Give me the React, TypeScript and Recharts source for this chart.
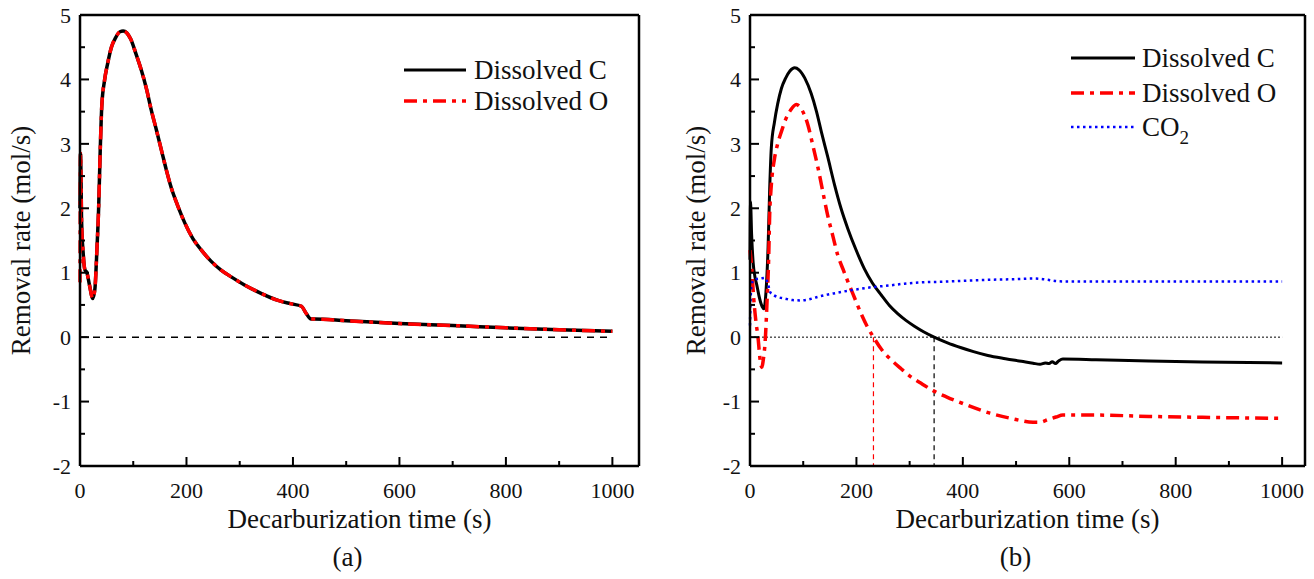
import { LineChart, Line, XAxis, YAxis, ReferenceLine, Legend } from 'recharts';

const FONT = '"Liberation Serif", "Times New Roman", serif';

// ---- panel (a) ----
const timeA = [0, 1, 3, 6, 9, 13, 18, 24, 28, 32, 35, 38, 41, 46, 52, 59, 67, 75, 81, 88, 95, 105, 115, 125, 134, 144, 153, 162, 171, 184, 197, 212, 228, 246, 265, 287, 309, 340, 372, 395, 416, 424, 434, 440, 500, 600, 700, 800, 900, 1000];
const carbonA = [2.0, 2.85, 1.8, 1.3, 1.05, 1.0, 0.8, 0.6, 0.75, 1.4, 2.0, 2.9, 3.6, 3.98, 4.25, 4.5, 4.65, 4.74, 4.75, 4.72, 4.63, 4.4, 4.15, 3.85, 3.52, 3.2, 2.9, 2.6, 2.33, 2.03, 1.77, 1.53, 1.35, 1.18, 1.04, 0.92, 0.81, 0.68, 0.57, 0.52, 0.48, 0.38, 0.28, 0.28, 0.255, 0.21, 0.18, 0.145, 0.115, 0.09];
const oxygenA = [0.85, 2.85, 1.8, 1.3, 1.05, 1.0, 0.8, 0.6, 0.75, 1.4, 2.0, 2.9, 3.6, 3.98, 4.25, 4.5, 4.65, 4.74, 4.75, 4.72, 4.63, 4.4, 4.15, 3.85, 3.52, 3.2, 2.9, 2.6, 2.33, 2.03, 1.77, 1.53, 1.35, 1.18, 1.04, 0.92, 0.81, 0.68, 0.57, 0.52, 0.48, 0.38, 0.28, 0.28, 0.255, 0.21, 0.18, 0.145, 0.115, 0.09];

// ---- panel (b) ----
const timeB_C = [0, 1, 3, 6, 9, 13, 18, 23, 26, 30, 34, 37, 40, 46, 52, 59, 67, 75, 84, 92, 103, 115, 125, 134, 146, 159, 171, 184, 199, 215, 230, 247, 262, 278, 293, 309, 327, 346, 370, 397, 420, 447, 480, 510, 532, 545, 555, 562, 568, 574, 580, 588, 650, 750, 850, 1000];
const carbonB = [1.2, 2.1, 1.6, 1.15, 0.95, 0.8, 0.6, 0.47, 0.44, 0.7, 1.4, 2.3, 2.93, 3.34, 3.62, 3.86, 4.02, 4.13, 4.18, 4.15, 4.02, 3.78, 3.5, 3.19, 2.8, 2.36, 2.0, 1.68, 1.36, 1.06, 0.84, 0.65, 0.49, 0.36, 0.26, 0.17, 0.08, 0.0, -0.085, -0.165, -0.225, -0.285, -0.335, -0.375, -0.405, -0.42, -0.4, -0.41, -0.38, -0.41, -0.37, -0.34, -0.35, -0.37, -0.385, -0.4];

const timeB_O = [0, 3, 7, 11, 15, 19, 22, 25, 29, 32, 35, 37, 40, 46, 52, 59, 67, 76, 87, 98, 109, 118, 128, 137, 146, 156, 165, 175, 184, 197, 209, 220, 232, 248, 265, 284, 303, 324, 344, 370, 400, 451, 490, 532, 545, 560, 575, 588, 650, 750, 850, 1000];
const oxygenB = [1.35, 1.1, 0.6, 0.25, 0.0, -0.35, -0.47, -0.35, 0.0, 0.55, 1.2, 1.9, 2.35, 2.77, 3.0, 3.19, 3.38, 3.52, 3.61, 3.52, 3.29, 2.98, 2.62, 2.25, 1.89, 1.56, 1.27, 1.05, 0.86, 0.6, 0.36, 0.17, 0.0, -0.2, -0.35, -0.49, -0.62, -0.73, -0.83, -0.93, -1.03, -1.18, -1.26, -1.32, -1.32, -1.28, -1.24, -1.21, -1.21, -1.23, -1.245, -1.26];

const timeB_CO2 = [0, 1, 3, 6, 12, 20, 28, 33, 38, 45, 53, 65, 80, 95, 110, 125, 145, 165, 184, 200, 215, 234, 260, 290, 320, 360, 400, 450, 500, 532, 545, 560, 575, 590, 650, 750, 850, 1000];
const co2B = [0.18, 0.55, 0.8, 0.88, 0.9, 0.91, 0.92, 0.85, 0.7, 0.65, 0.62, 0.6, 0.575, 0.57, 0.585, 0.62, 0.66, 0.69, 0.72, 0.74, 0.76, 0.78, 0.8, 0.83, 0.85, 0.86, 0.875, 0.89, 0.9, 0.91, 0.905, 0.89, 0.87, 0.865, 0.865, 0.865, 0.865, 0.865];

const X_TICKS = [0, 100, 200, 300, 400, 500, 600, 700, 800, 900, 1000];
const Y_TICKS = [-2, -1.5, -1, -0.5, 0, 0.5, 1, 1.5, 2, 2.5, 3, 3.5, 4, 4.5, 5];

const zip = (ts: number[], vs: number[]) => ts.map((t, i) => ({ t, v: vs[i] }));

const DASH_DOT = '13 6 4 6';
const DOTS = '2.5 3.5';

function XTick({ x, y, payload }: any) {
  const major = payload.value % 200 === 0;
  return (
    <g>
      <line x1={x} y1={y} x2={x} y2={y - (major ? 9 : 5)} stroke="#000" strokeWidth={2} />
      {major && (
        <text x={x} y={y + 24} dy="0.35em" textAnchor="middle" fontFamily={FONT} fontSize={22} fill="#111">
          {payload.value}
        </text>
      )}
    </g>
  );
}

function YTick({ x, y, payload }: any) {
  const major = Number.isInteger(payload.value);
  return (
    <g>
      <line x1={x} y1={y} x2={x + (major ? 9 : 5)} y2={y} stroke="#000" strokeWidth={2} />
      {major && (
        <text x={x - 9} y={y} dy="0.35em" textAnchor="end" fontFamily={FONT} fontSize={22} fill="#111">
          {String(payload.value)}
        </text>
      )}
    </g>
  );
}

const xTitle = (tag: string) => (props: any) => {
  const { x, y, width } = props.viewBox;
  const cx = x + width / 2;
  return (
    <g>
      <text x={cx} y={y + 53} dy="0.35em" textAnchor="middle" fontFamily={FONT} fontSize={27} fill="#111">
        Decarburization time (s)
      </text>
      <text x={cx - 12} y={y + 91} dy="0.35em" textAnchor="middle" fontFamily={FONT} fontSize={27} fill="#111">
        {tag}
      </text>
    </g>
  );
};

const yTitle = (cxOffset: number) => (props: any) => {
  const { x, y, height } = props.viewBox;
  const cx = x + cxOffset;
  const cy = y + height / 2;
  return (
    <text x={cx} y={cy} dy="0.35em" transform={`rotate(-90 ${cx} ${cy})`} textAnchor="middle" fontFamily={FONT} fontSize={27} fill="#111">
      Removal rate (mol/s)
    </text>
  );
};

interface LegendItem {
  name: string;
  color: string;
  dash?: string;
  width: number;
  sub?: string;
}

const legendA: LegendItem[] = [
  { name: 'Dissolved C', color: '#000', width: 3 },
  { name: 'Dissolved O', color: '#ff0000', dash: DASH_DOT, width: 3.5 },
];
const legendB: LegendItem[] = [
  { name: 'Dissolved C', color: '#000', width: 3 },
  { name: 'Dissolved O', color: '#ff0000', dash: DASH_DOT, width: 3.5 },
  { name: 'CO', sub: '2', color: '#0000ff', dash: DOTS, width: 2.5 },
];

const renderLegend = (items: LegendItem[], rows: number[], x0: number, x1: number, tx: number) => () => (
  <svg width={260} height={120}>
    {items.map((it, i) => (
      <g key={it.name}>
        <line x1={x0} y1={rows[i]} x2={x1} y2={rows[i]} stroke={it.color} strokeWidth={it.width} strokeDasharray={it.dash} />
        <text x={tx} y={rows[i]} dy="0.35em" fontFamily={FONT} fontSize={27} fill="#111">
          {it.name}
          {it.sub && (
            <tspan fontSize={19} dy={8}>
              {it.sub}
            </tspan>
          )}
        </text>
      </g>
    ))}
  </svg>
);

export default function App() {
  return (
    <div style={{ position: 'absolute', left: 0, top: 0, width: 1314, height: 579, background: '#fff' }}>
      <div style={{ position: 'absolute', left: 0, top: 0 }}>
        <LineChart width={655} height={579} margin={{ top: 15, right: 16, left: 0, bottom: 0 }}>
          <XAxis type="number" dataKey="t" domain={[0, 1050]} ticks={X_TICKS} interval={0} height={113}
            tick={XTick} tickLine={false} tickSize={0} tickMargin={0}
            axisLine={{ stroke: '#000', strokeWidth: 2.5 }} label={{ content: xTitle('(a)') }} />
          <YAxis type="number" domain={[-2, 5]} ticks={Y_TICKS} interval={0} width={80}
            tick={YTick} tickLine={false} tickSize={0} tickMargin={0}
            axisLine={{ stroke: '#000', strokeWidth: 2.5 }} label={{ content: yTitle(21) }} />
          <ReferenceLine y={5} stroke="#000" strokeWidth={2.5} />
          <ReferenceLine x={1050} stroke="#000" strokeWidth={2.5} />
          <ReferenceLine segment={[{ x: 0, y: 0 }, { x: 1000, y: 0 }]} stroke="#000" strokeWidth={1.5} strokeDasharray="7 6" />
          <Line data={zip(timeA, carbonA)} dataKey="v" name="Dissolved C" type="monotone" stroke="#000" strokeWidth={3.5} dot={false} activeDot={false} isAnimationActive={false} />
          <Line data={zip(timeA, oxygenA)} dataKey="v" name="Dissolved O" type="monotone" stroke="#ff0000" strokeWidth={3.5} strokeDasharray={DASH_DOT} dot={false} activeDot={false} isAnimationActive={false} />
          <Legend layout="horizontal" verticalAlign="middle" align="center"
            wrapperStyle={{ position: 'absolute', left: 400, top: 50, width: 260, height: 120 }}
            content={renderLegend(legendA, [20, 51], 4, 66, 74)} />
        </LineChart>
      </div>
      <div style={{ position: 'absolute', left: 655, top: 0 }}>
        <LineChart width={659} height={579} margin={{ top: 15, right: 9, left: 0, bottom: 0 }}>
          <XAxis type="number" dataKey="t" domain={[0, 1043]} ticks={X_TICKS} interval={0} height={113}
            tick={XTick} tickLine={false} tickSize={0} tickMargin={0}
            axisLine={{ stroke: '#000', strokeWidth: 2.5 }} label={{ content: xTitle('(b)') }} />
          <YAxis type="number" domain={[-2, 5]} ticks={Y_TICKS} interval={0} width={95}
            tick={YTick} tickLine={false} tickSize={0} tickMargin={0}
            axisLine={{ stroke: '#000', strokeWidth: 2.5 }} label={{ content: yTitle(41) }} />
          <ReferenceLine y={5} stroke="#000" strokeWidth={2.5} />
          <ReferenceLine x={1043} stroke="#000" strokeWidth={2.5} />
          <ReferenceLine segment={[{ x: 0, y: 0 }, { x: 1000, y: 0 }]} stroke="#000" strokeWidth={1} strokeDasharray="2 2" />
          <ReferenceLine segment={[{ x: 232, y: 0 }, { x: 232, y: -2 }]} stroke="#ff0000" strokeWidth={1.2} strokeDasharray="5 4" />
          <ReferenceLine segment={[{ x: 346, y: 0 }, { x: 346, y: -2 }]} stroke="#000" strokeWidth={1.2} strokeDasharray="5 4" />
          <Line data={zip(timeB_C, carbonB)} dataKey="v" name="Dissolved C" type="monotone" stroke="#000" strokeWidth={3} dot={false} activeDot={false} isAnimationActive={false} />
          <Line data={zip(timeB_O, oxygenB)} dataKey="v" name="Dissolved O" type="monotone" stroke="#ff0000" strokeWidth={3.5} strokeDasharray={DASH_DOT} dot={false} activeDot={false} isAnimationActive={false} />
          <Line data={zip(timeB_CO2, co2B)} dataKey="v" name="CO2" type="monotone" stroke="#0000ff" strokeWidth={2.5} strokeDasharray={DOTS} dot={false} activeDot={false} isAnimationActive={false} />
          <Legend layout="horizontal" verticalAlign="middle" align="center"
            wrapperStyle={{ position: 'absolute', left: 410, top: 35, width: 260, height: 120 }}
            content={renderLegend(legendB, [23, 58, 92], 6, 70, 77)} />
        </LineChart>
      </div>
    </div>
  );
}
